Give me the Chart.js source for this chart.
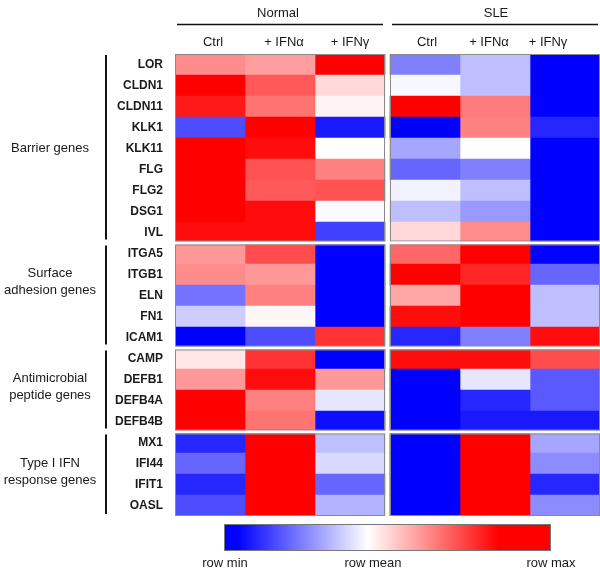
<!DOCTYPE html>
<html>
<head>
<meta charset="utf-8">
<script src="https://cdn.jsdelivr.net/npm/chart.js@4.4.0/dist/chart.umd.min.js"></script>
<style>
  html, body { margin: 0; padding: 0; background: #fff; }
</style>
</head>
<body>
<canvas id="heat" width="600" height="570"></canvas>
<script>
/* ── Data ── */
const genes = ['LOR','CLDN1','CLDN11','KLK1','KLK11','FLG','FLG2','DSG1','IVL',
  'ITGA5','ITGB1','ELN','FN1','ICAM1',
  'CAMP','DEFB1','DEFB4A','DEFB4B',
  'MX1','IFI44','IFIT1','OASL'];
const groupLabels = [['Barrier genes'], ['Surface', 'adhesion genes'], ['Antimicrobial', 'peptide genes'], ['Type I IFN', 'response genes']];
const groupSizes = [9, 5, 4, 4];
const panels = ['Normal', 'SLE'];
const conditions = ['Ctrl', '+ IFNα', '+ IFNγ'];
const scaleLabels = ['row min', 'row mean', 'row max'];

// row-scaled values: -1 = row min (blue), 0 = row mean (white), 1 = row max (red)
const normalCtrl = [0.45, 1.0, 0.9, -0.7, 1.0, 1.0, 1.0, 1.0, 0.95,
  0.4, 0.45, -0.55, -0.2, -1.0,
  0.1, 0.4, 1.0, 1.0,
  -0.85, -0.6, -0.85, -0.7];
const normalIFNa = [0.38, 0.65, 0.55, 1.0, 0.95, 0.68, 0.65, 0.95, 0.95,
  0.7, 0.4, 0.5, 0.03, -0.7,
  0.8, 0.95, 0.5, 0.55,
  1.0, 1.0, 1.0, 1.0];
const normalIFNg = [1.0, 0.15, 0.05, -0.9, 0.0, 0.5, 0.68, -0.02, -0.75,
  -1.0, -1.0, -1.0, -1.0, 0.8,
  -1.0, 0.4, -0.1, -0.95,
  -0.25, -0.15, -0.6, -0.3];
const sleCtrl = [-0.5, -0.03, 1.0, -1.0, -0.35, -0.6, -0.05, -0.25, 0.15,
  0.6, 1.0, 0.35, 0.95, -0.85,
  0.95, -1.0, -1.0, -1.0,
  -1.0, -1.0, -1.0, -1.0];
const sleIFNa = [-0.25, -0.25, 0.52, 0.5, 0.0, -0.5, -0.25, -0.4, 0.45,
  1.0, 0.85, 1.0, 1.0, -0.5,
  0.95, -0.1, -0.85, -0.9,
  1.0, 1.0, 1.0, 1.0];
const sleIFNg = [-1.0, -1.0, -1.0, -0.85, -1.0, -1.0, -1.0, -1.0, -1.0,
  -1.0, -0.6, -0.25, -0.25, 0.95,
  0.7, -0.65, -0.65, -0.9,
  -0.35, -0.45, -0.85, -0.45];
const columns = [normalCtrl, normalIFNa, normalIFNg, sleCtrl, sleIFNa, sleIFNg];

/* ── Helpers ── */
const FONT = "'Liberation Sans', Arial, sans-serif";
const GAP = 5 / 70;   // space between the two panels, in column units
const colStart = c => (c < 3 ? c : c + GAP);

function heatColor(v) {
  if (v < 0) {
    const k = Math.round(255 * (1 + v));
    return `rgb(${k},${k},255)`;
  }
  const k = Math.round(255 * (1 - v));
  return `rgb(255,${k},${k})`;
}

const datasets = columns.map((vals, c) => ({
  label: panels[c < 3 ? 0 : 1] + ' ' + conditions[c % 3],
  data: vals.map(() => [colStart(c), colStart(c) + 1]),
  backgroundColor: vals.map(heatColor),
  borderWidth: 0,
  grouped: false,
  barPercentage: 1,
  categoryPercentage: 1
}));

// ── Decorations: separators, frames, brackets, headers, colour key ──
const decor = {
  id: 'decor',
  afterDatasetsDraw(chart) {
    const { ctx, scales: { x, y }, chartArea: ca } = chart;
    const rowH = (y.getPixelForValue(1) - y.getPixelForValue(0));
    const top = y.getPixelForValue(0) - rowH / 2;
    const labelShift = [0, -14, -3, -2];
    ctx.save();

    // group blocks
    let start = 0;
    groupSizes.forEach((n, g) => {
      const y0 = top + start * rowH;
      const y1 = top + (start + n) * rowH;
      const b0 = g === 0 ? y0 : y0 + 1.5;
      const b1 = g === groupSizes.length - 1 ? y1 : y1 - 1.5;
      if (g > 0) {
        ctx.fillStyle = '#fff';
        ctx.fillRect(ca.left, y0 - 1.5, ca.right - ca.left, 3);
      }
      ctx.strokeStyle = '#8a8a8a';
      ctx.lineWidth = 1;
      [[0, 3], [3 + GAP, 6 + GAP]].forEach(([a, b]) => {
        const xa = x.getPixelForValue(a), xb = x.getPixelForValue(b);
        ctx.strokeRect(xa + 0.5, b0 + 0.5, xb - xa - 1, b1 - b0 - 1);
      });
      // bracket
      ctx.strokeStyle = '#111';
      ctx.lineWidth = 2;
      ctx.beginPath();
      ctx.moveTo(106, b0 + 1);
      ctx.lineTo(106, b1 - 2);
      ctx.stroke();
      // group label
      const lines = groupLabels[g];
      ctx.fillStyle = '#1a1a1a';
      ctx.font = `13px ${FONT}`;
      ctx.textAlign = 'center';
      ctx.textBaseline = 'middle';
      const mid = (y0 + y1) / 2 + labelShift[g];
      lines.forEach((t, i) => ctx.fillText(t, 50, mid + (i - (lines.length - 1) / 2) * 17));
      start += n;
    });

    // panel headers
    ctx.fillStyle = '#1a1a1a';
    ctx.font = `13px ${FONT}`;
    ctx.textAlign = 'center';
    ctx.textBaseline = 'middle';
    panels.forEach((p, i) => {
      const xa = x.getPixelForValue(i === 0 ? 0 : 3 + GAP);
      const xb = x.getPixelForValue(i === 0 ? 3 : 6 + GAP);
      ctx.fillText(p, i === 0 ? (xa + xb) / 2 - 2 : 496, 13);
      ctx.strokeStyle = '#111';
      ctx.lineWidth = 1.5;
      ctx.beginPath();
      ctx.moveTo(xa + 2, 24.5);
      ctx.lineTo(xb - 2, 24.5);
      ctx.stroke();
      conditions.forEach((c, j) => {
        const cx = x.getPixelForValue(colStart(i * 3 + j) + 0.5);
        const nudge = (i === 1 ? [2, -6, -17] : [3, 4, 0])[j];
        ctx.fillText(c, cx + nudge, 42);
      });
    });

    // colour key
    const kx0 = 224, kx1 = 551, ky0 = 524, ky1 = 551;
    const grad = ctx.createLinearGradient(kx0, 0, kx1, 0);
    grad.addColorStop(0, heatColor(-1));
    grad.addColorStop(0.04, heatColor(-1));
    grad.addColorStop(0.44, heatColor(0));
    grad.addColorStop(0.84, heatColor(1));
    grad.addColorStop(1, heatColor(1));
    ctx.fillStyle = grad;
    ctx.fillRect(kx0, ky0, kx1 - kx0, ky1 - ky0);
    ctx.strokeStyle = '#777';
    ctx.lineWidth = 1;
    ctx.strokeRect(kx0 + 0.5, ky0 + 0.5, kx1 - kx0 - 1, ky1 - ky0 - 1);
    ctx.fillStyle = '#1a1a1a';
    ctx.font = `13px ${FONT}`;
    [225, 373, 551].forEach((px, i) => ctx.fillText(scaleLabels[i], px, 563));

    ctx.restore();
  }
};

new Chart(document.getElementById('heat'), {
  type: 'bar',
  data: { labels: genes, datasets },
  options: {
    indexAxis: 'y',
    responsive: false,
    animation: false,
    devicePixelRatio: 1,
    layout: { padding: { left: 0, right: 0, top: 54, bottom: 54 } },
    plugins: { legend: { display: false }, tooltip: { enabled: false } },
    scales: {
      x: { type: 'linear', display: false, min: 0, max: 6 + GAP },
      y: {
        type: 'category',
        grid: { display: false, drawTicks: false },
        border: { display: false },
        ticks: { color: '#1a1a1a', padding: 12, font: { family: FONT, size: 12, weight: 'bold' } },
        afterFit: s => { s.width = 175; }
      }
    }
  },
  plugins: [decor]
});
</script>
</body>
</html>
